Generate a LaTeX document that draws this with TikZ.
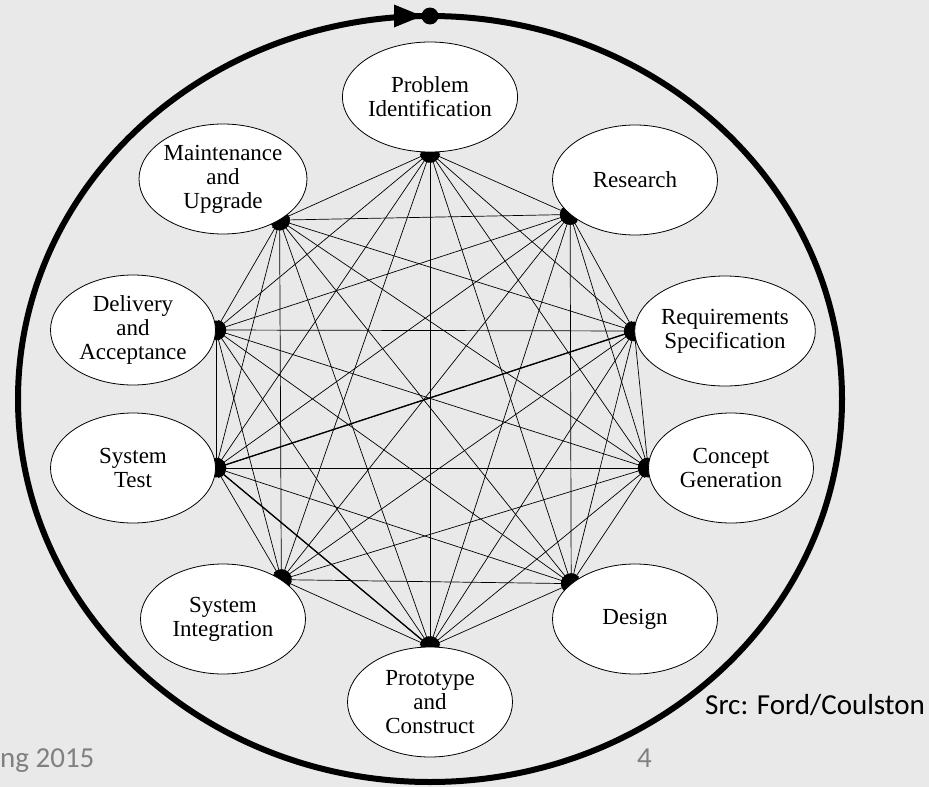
\documentclass[tikz,border=0pt]{standalone}
\usepackage{fontspec}
\newfontfamily\slidefont{Carlito}
\newfontfamily\phasefont{Liberation Serif}
\usetikzlibrary{shapes.geometric,arrows.meta}
\pgfdeclarelayer{backdrop}
\pgfdeclarelayer{links}
\pgfsetlayers{backdrop,links,main}
\definecolor{slidebg}{RGB}{233,233,233}
\definecolor{footgray}{RGB}{128,128,128}

\begin{document}
\begin{tikzpicture}[x=1pt,y=-1pt,
  phase/.style={ellipse,draw,line width=0.8pt,fill=white,
    minimum width=165pt,minimum height=110pt,inner sep=0pt,align=center,
    font=\phasefont\fontsize{23}{24}\selectfont},
  link/.style={line width=0.7pt,
    {Latex[length=10pt,width=6pt]}-{Latex[length=10pt,width=6pt]}},
  boldlink/.style={link,line width=1.3pt},
  hubdot/.style={fill=black},
  ring/.style={line width=6pt},
  foot/.style={inner sep=0pt,anchor=base west,
    font=\slidefont\fontsize{29}{30}\selectfont}]

\useasboundingbox (0,0) rectangle (929,787);
\begin{pgfonlayer}{backdrop}
  \fill[slidebg] (0,0) rectangle (929,787);
\end{pgfonlayer}

% the ten phases
\node[phase] (prob)  at (430,97)  {Problem\\Identification};
\node[phase] (res)   at (635,180) {Research};
\node[phase] (req)   at (725,331) {Requirements\\Specification};
\node[phase] (conc)  at (731,468) {Concept\\Generation};
\node[phase] (des)   at (635,619) {Design};
\node[phase] (proto) at (430,702) {Prototype\\and\\Construct};
\node[phase] (sint)  at (223,619) {System\\Integration};
\node[phase] (stest) at (133,468) {System\\Test};
\node[phase] (deliv) at (133,330) {Delivery\\and\\Acceptance};
\node[phase] (maint) at (223,179) {Maintenance\\and\\Upgrade};

% connection points on the inner side of each phase
\coordinate (h-prob)  at (prob.-90);
\coordinate (h-res)   at (res.208);
\coordinate (h-req)   at (req.180);
\coordinate (h-conc)  at (conc.180);
\coordinate (h-des)   at (des.151);
\coordinate (h-proto) at (proto.90);
\coordinate (h-sint)  at (sint.34);
\coordinate (h-stest) at (stest.0);
\coordinate (h-deliv) at (deliv.0);
\coordinate (h-maint) at (maint.-36);

% every phase linked with every other one
\begin{pgfonlayer}{links}
  \foreach \a/\i in {prob/1,res/2,req/3,conc/4,des/5,proto/6,sint/7,stest/8,deliv/9,maint/10}{
    \foreach \b/\j in {prob/1,res/2,req/3,conc/4,des/5,proto/6,sint/7,stest/8,deliv/9,maint/10}{
      \ifnum\j>\i
        \draw[link] (h-\a) -- (h-\b);
      \fi
    }
  }
  \draw[boldlink] (h-stest) -- (h-req);
  \draw[boldlink] (h-stest) -- (h-proto);
  \foreach \a in {prob,res,req,conc,des,proto,sint,stest,deliv,maint}
    \fill[hubdot] (h-\a) circle[radius=9.5pt];
\end{pgfonlayer}

% the surrounding cycle with its start marker
\coordinate (start) at (430,16);
\draw[ring] (430,399) ellipse[x radius=412pt,y radius=383pt];
\fill (394,4.5) -- (422,16) -- (394,27.5) -- cycle;
\fill (start) circle[radius=8.5pt];

% footer texts
\node[foot,text=footgray] (date) at (0,767) {ng 2015};
\node[foot,text=footgray] (page) at (637,767) {4};
\node[foot] (src) at (705,714) {Src: Ford/Coulston};
\end{tikzpicture}
\end{document}
